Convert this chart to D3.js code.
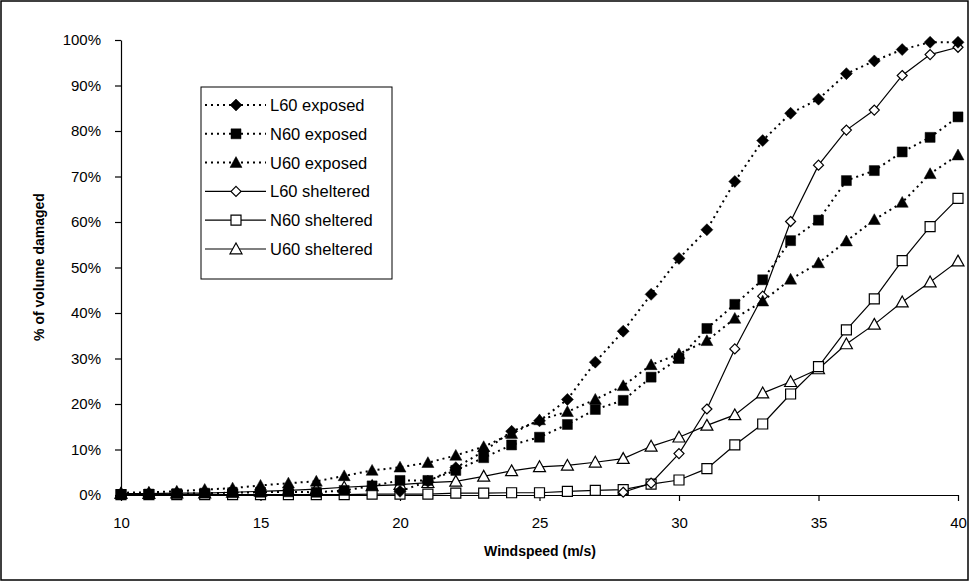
<!DOCTYPE html>
<html><head><meta charset="utf-8">
<script src="https://cdn.jsdelivr.net/npm/d3@7"></script>
<style>body{margin:0;background:#fff} text{font-family:"Liberation Sans",Arial,sans-serif;fill:#000}</style>
</head><body><svg id="c" width="970" height="582"></svg>
<script>
const windspeed = [10,11,12,13,14,15,16,17,18,19,20,21,22,23,24,25,26,27,28,29,30,31,32,33,34,35,36,37,38,39,40];
const L60exposed = [null,null,null,null,null,null,null,null,null,null,0.8,3.0,6.0,9.6,14.0,16.3,21.0,29.2,36.0,44.1,52.0,58.3,68.9,77.9,83.9,87.0,92.6,95.4,97.9,99.5,99.5];
const N60exposed = [0.1,0.2,0.3,0.4,0.5,0.6,0.7,0.6,1.0,2.0,3.2,3.2,5.4,8.2,11.0,12.7,15.5,18.8,20.8,25.9,30.0,36.6,41.9,47.3,55.9,60.4,69.1,71.3,75.4,78.6,83.1];
const U60exposed = [0.5,0.6,0.8,1.2,1.5,2.1,2.6,3.0,4.2,5.4,6.1,7.1,8.7,10.6,13.5,16.5,18.3,21.0,24.0,28.6,31.0,33.9,38.8,42.6,47.4,51.0,55.8,60.5,64.3,70.6,74.7];
const L60sheltered = [null,null,null,null,null,null,null,null,null,null,null,null,null,null,null,null,null,null,0.6,2.6,9.1,18.9,32.1,43.7,60.1,72.5,80.2,84.6,92.2,96.8,98.4];
const N60sheltered = [0.1,0.1,0.1,0.1,0.1,0.1,0.1,0.1,0.1,0.2,0.2,0.2,0.4,0.4,0.5,0.5,0.8,1.0,1.2,2.4,3.3,5.8,11.0,15.6,22.2,28.2,36.3,43.1,51.5,59.0,65.2];
const U60sheltered = [0.3,0.3,0.4,0.4,0.6,0.8,1.0,1.3,1.7,2.0,2.3,2.7,3.0,4.1,5.3,6.2,6.5,7.2,8.0,10.7,12.7,15.3,17.6,22.4,24.9,27.7,33.2,37.5,42.4,46.8,51.4];
const xTicks = [10,15,20,25,30,35,40];
const yTicks = [0,0.1,0.2,0.3,0.4,0.5,0.6,0.7,0.8,0.9,1.0];
const seriesNames = ["L60 exposed","N60 exposed","U60 exposed","L60 sheltered","N60 sheltered","U60 sheltered"];

const series = [
  {name:seriesNames[0], values:L60exposed, shape:"diamond", filled:true, dotted:true},
  {name:seriesNames[1], values:N60exposed, shape:"square", filled:true, dotted:true},
  {name:seriesNames[2], values:U60exposed, shape:"triangle", filled:true, dotted:true},
  {name:seriesNames[3], values:L60sheltered, shape:"diamond", filled:false, dotted:false},
  {name:seriesNames[4], values:N60sheltered, shape:"square", filled:false, dotted:false},
  {name:seriesNames[5], values:U60sheltered, shape:"triangle", filled:false, dotted:false}
];

const svg = d3.select("#c");
svg.append("rect").attr("x",1).attr("y",1).attr("width",967).attr("height",579)
  .attr("fill","#fff").attr("stroke","#000").attr("stroke-width",1.5);

const x = d3.scaleLinear().domain([10,40]).range([121,958]);
const y = d3.scaleLinear().domain([0,1]).range([495,40]);

function shapePath(shape, filled){
  if(shape==="diamond"){ const r = filled?6:5; return `M0,${-r}L${r},0L0,${r}L${-r},0Z`; }
  if(shape==="square"){ const r = 5; return `M${-r},${-r}H${r}V${r}H${-r}Z`; }
  const r = 6; return `M0,${-r}L${r},${r*0.8}L${-r},${r*0.8}Z`;
}

const gx = svg.append("g").attr("transform","translate(0,495)")
  .call(d3.axisBottom(x).tickValues(xTicks).tickSize(6).tickSizeOuter(0).tickPadding(16).tickFormat(d3.format("d")));
const gy = svg.append("g").attr("transform","translate(121,0)")
  .call(d3.axisLeft(y).tickValues(yTicks).tickSize(6).tickSizeOuter(0).tickPadding(14).tickFormat(d3.format(".0%")));
[gx,gy].forEach(g=>{
  g.selectAll("text").style("font-size","15px").attr("fill","#000");
  g.selectAll("line,path").attr("stroke","#000").attr("stroke-width",1.2);
});

svg.append("text").attr("x",540).attr("y",556).attr("text-anchor","middle")
  .style("font-size","14px").style("font-weight","bold").text("Windspeed (m/s)");
svg.append("text").attr("transform","translate(44,267) rotate(-90)").attr("text-anchor","middle")
  .style("font-size","14px").style("font-weight","bold").text("% of volume damaged");

const line = d3.line().defined(d=>d[1]!==null).x(d=>x(d[0])).y(d=>y(d[1]/100));
const plot = svg.append("g");
series.slice().reverse().forEach(s=>{
  const pts = windspeed.map((w,i)=>[w,s.values[i]]);
  plot.append("path").datum(pts).attr("d",line).attr("fill","none").attr("stroke","#000")
    .attr("stroke-width",s.dotted?2:1.2).attr("stroke-dasharray",s.dotted?"2,4":null);
  plot.selectAll(null).data(pts.filter(d=>d[1]!==null)).enter().append("path")
    .attr("transform",d=>`translate(${x(d[0])},${y(d[1]/100)})`)
    .attr("d",shapePath(s.shape,s.filled))
    .attr("fill",s.filled?"#000":"#fff").attr("stroke","#000").attr("stroke-width",s.filled?0.5:1.2);
});

// legend
const lg = svg.append("g");
lg.append("rect").attr("x",201).attr("y",87).attr("width",191).attr("height",192)
  .attr("fill","#fff").attr("stroke","#000").attr("stroke-width",1);
series.forEach((s,i)=>{
  const yy = 105 + i*28.8;
  lg.append("line").attr("x1",205).attr("x2",266).attr("y1",yy).attr("y2",yy)
    .attr("stroke","#000").attr("stroke-width",s.dotted?2:1.2).attr("stroke-dasharray",s.dotted?"2,4":null);
  lg.append("path").attr("transform",`translate(236,${yy})`).attr("d",shapePath(s.shape,s.filled))
    .attr("fill",s.filled?"#000":"#fff").attr("stroke","#000").attr("stroke-width",s.filled?0.5:1.2);
  lg.append("text").attr("x",270).attr("y",yy).attr("dy","0.36em").style("font-size","16.5px").text(s.name);
});
</script>
</body></html>
